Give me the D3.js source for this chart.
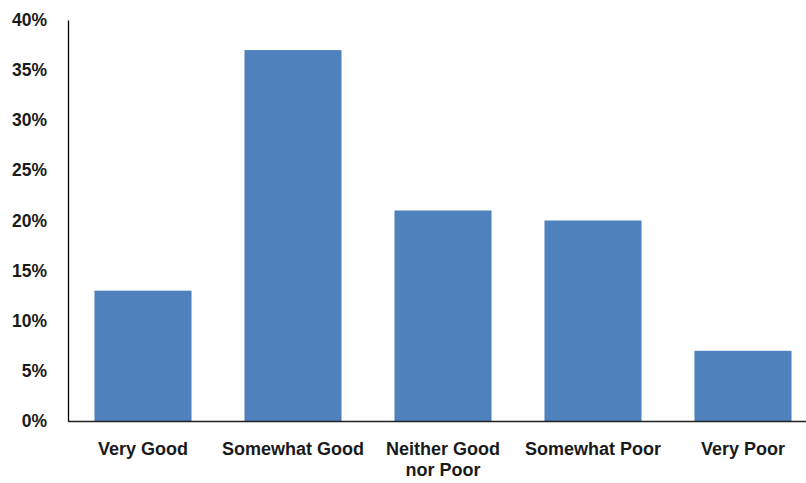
<!DOCTYPE html>
<html>
<head>
<meta charset="utf-8">
<script src="https://cdn.jsdelivr.net/npm/d3@7"></script>
<style>
  html, body { margin: 0; padding: 0; background: #fff; }
  svg { display: block; }
  text { font-family: "Liberation Sans", Arial, sans-serif; font-weight: 700; fill: #1a1a1a; }
</style>
</head>
<body>
<svg id="chart" width="806" height="483"></svg>
<script>
const categories = ["Very Good", "Somewhat Good", "Neither Good\nnor Poor", "Somewhat Poor", "Very Poor"];
const values = [0.13, 0.37, 0.21, 0.20, 0.07];
const yTicks = [0, 0.05, 0.10, 0.15, 0.20, 0.25, 0.30, 0.35, 0.40];

const svg = d3.select("#chart");
const plotLeft = 68, plotBase = 421, plotTop = 20, plotRight = 818;
const fontFamily = '"Liberation Sans", Arial, sans-serif';

const x = d3.scaleBand()
  .domain(categories)
  .range([plotLeft, plotRight])
  .paddingInner(0.353)
  .paddingOuter(0.1765);

const y = d3.scaleLinear().domain([0, 0.40]).range([plotBase, plotTop]);

// bars
svg.append("g").selectAll("rect")
  .data(values)
  .join("rect")
  .attr("x", (d, i) => x(categories[i]))
  .attr("y", d => y(d))
  .attr("width", x.bandwidth())
  .attr("height", d => plotBase - y(d))
  .attr("fill", "#4f81bd");

// y axis: labels only, plus the vertical line
const yAxis = d3.axisLeft(y).tickValues(yTicks).tickFormat(d3.format(".0%")).tickSize(0).tickPadding(21);
const gy = svg.append("g").attr("transform", `translate(${plotLeft},0)`).call(yAxis);
gy.select(".domain").attr("stroke", "#000").attr("stroke-width", 1.3);
gy.selectAll("text").attr("font-size", 17.5).attr("font-family", fontFamily).attr("font-weight", 700).attr("fill", "#1a1a1a");

// x axis line
svg.append("line")
  .attr("x1", plotLeft).attr("x2", 806)
  .attr("y1", plotBase + 0.5).attr("y2", plotBase + 0.5)
  .attr("stroke", "#222").attr("stroke-width", 1.5);

// category labels (multi-line)
const lab = svg.append("g").selectAll("text")
  .data(categories)
  .join("text")
  .attr("text-anchor", "middle")
  .attr("font-size", 18)
  .attr("x", d => x(d) + x.bandwidth() / 2)
  .attr("y", 455);
lab.each(function (d) {
  const t = d3.select(this);
  d.split("\n").forEach((line, i) => {
    t.append("tspan").attr("x", x(d) + x.bandwidth() / 2).attr("dy", i === 0 ? 0 : 21).text(line);
  });
});
</script>
</body>
</html>
